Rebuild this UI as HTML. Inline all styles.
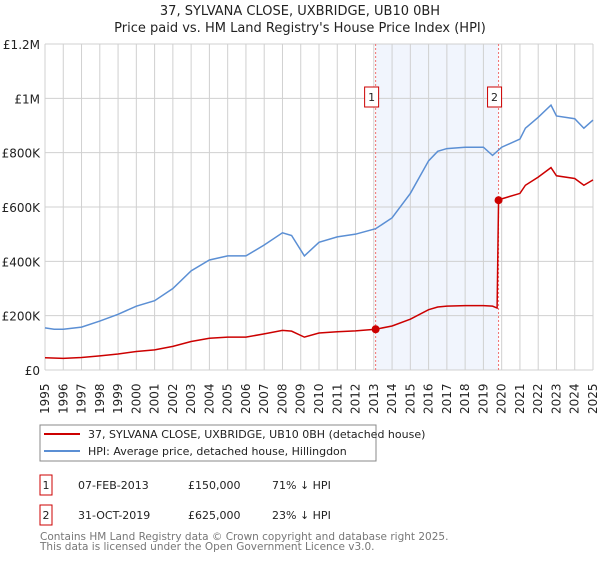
<!DOCTYPE html>
<html><head><meta charset="utf-8"><style>
body{margin:0;background:#fff;font-family:"DejaVu Sans","Liberation Sans",sans-serif;}
svg text{font-family:"DejaVu Sans","Liberation Sans",sans-serif;}
</style></head><body>
<svg id="chart" width="600" height="560" xmlns="http://www.w3.org/2000/svg">
<text x="300" y="15" text-anchor="middle" font-size="13" fill="#222">37, SYLVANA CLOSE, UXBRIDGE, UB10 0BH</text>
<text x="300" y="32" text-anchor="middle" font-size="13" fill="#222">Price paid vs. HM Land Registry's House Price Index (HPI)</text>
<g id="grid"></g><g id="series"></g><g id="axes"></g>
<g>
<rect x="40" y="425" width="336" height="36" fill="#fff" stroke="#888"/>
<line x1="44" y1="434" x2="80" y2="434" stroke="#cc0000" stroke-width="2"/>
<text x="88" y="438" font-size="11" fill="#222">37, SYLVANA CLOSE, UXBRIDGE, UB10 0BH (detached house)</text>
<line x1="44" y1="451" x2="80" y2="451" stroke="#5b8fd4" stroke-width="2"/>
<text x="88" y="455" font-size="11" fill="#222">HPI: Average price, detached house, Hillingdon</text>
</g>
<g font-size="11" fill="#222">
<rect x="40" y="475" width="12" height="20" fill="#fff" stroke="#cc0000"/>
<text x="46" y="489" text-anchor="middle">1</text>
<text x="78" y="489">07-FEB-2013</text><text x="188" y="489">£150,000</text><text x="272" y="489">71% ↓ HPI</text>
<rect x="40" y="505" width="12" height="20" fill="#fff" stroke="#cc0000"/>
<text x="46" y="519" text-anchor="middle">2</text>
<text x="78" y="519">31-OCT-2019</text><text x="188" y="519">£625,000</text><text x="272" y="519">23% ↓ HPI</text>
</g>
<text x="40" y="540" font-size="10.5" fill="#777">Contains HM Land Registry data © Crown copyright and database right 2025.</text>
<text x="40" y="550" font-size="10.5" fill="#777">This data is licensed under the Open Government Licence v3.0.</text>
</svg>
<script>
const hpiYears=[1995,1995.5,1996,1997,1998,1999,2000,2001,2002,2003,2004,2005,2006,2007,2008,2008.5,2009.2,2010,2011,2012,2013.1,2014,2015,2016,2016.5,2017,2018,2019,2019.5,2020,2021,2021.3,2022,2022.7,2023,2024,2024.5,2025];
const hpiValues=[155,150,150,158,180,205,235,255,300,365,405,420,420,460,505,495,420,470,490,500,520,560,650,770,805,815,820,820,790,820,850,890,930,975,935,925,890,920];
const propYears=[1995,1996,1997,1998,1999,2000,2001,2002,2003,2004,2005,2006,2007,2008,2008.5,2009.2,2010,2011,2012,2013.1,2014,2015,2016,2016.5,2017,2018,2019,2019.5,2019.75,2019.83,2020,2021,2021.3,2022,2022.7,2023,2024,2024.5,2025];
const propValues=[45,43,46,52,59,68,74,87,105,117,121,121,133,146,143,121,136,141,144,150,162,187,222,232,235,237,237,235,228,625,630,650,680,710,745,715,705,680,700];
const yTicks=[0,200,400,600,800,1000,1200];
const yTickLabels=["£0","£200K","£400K","£600K","£800K","£1M","£1.2M"];
const saleYears=[2013.1,2019.83];
const saleValues=[150,625];
const saleLabels=["1","2"];
const X0=45,X1=593,Y0=370,Y1=44;
const x=y=>X0+(y-1995)*(X1-X0)/30;
const yv=v=>Y0-v*(Y0-Y1)/1200;
const NS="http://www.w3.org/2000/svg";
function mk(t,a,p){const e=document.createElementNS(NS,t);for(const k in a)e.setAttribute(k,a[k]);p.appendChild(e);return e;}
const grid=document.getElementById('grid'),series=document.getElementById('series'),axes=document.getElementById('axes');
const band=mk('rect',{x:x(saleYears[0]),y:Y1,width:x(saleYears[1])-x(saleYears[0]),height:Y0-Y1,fill:'#eef3fc',opacity:0.8},grid);


for(let yr=1995;yr<=2025;yr++){const l=mk('line',{x1:x(yr),x2:x(yr),y1:Y1,y2:Y0,stroke:'#d0d0d0'},grid);


const t=mk('text',{x:0,y:0,'font-size':12,fill:'#222',transform:`translate(${x(yr)+4},${Y0+44}) rotate(-90)`},axes);t.textContent=yr;

}
yTicks.forEach((v,i)=>{const l=mk('line',{x1:X0,x2:X1,y1:yv(v),y2:yv(v),stroke:'#d0d0d0'},grid);


const t=mk('text',{x:X0-5,y:yv(v)+5,'text-anchor':'end','font-size':12,fill:'#222'},axes);t.textContent=yTickLabels[i];

});
saleYears.forEach((s,i)=>{const l=mk('line',{x1:x(s),x2:x(s),y1:Y1,y2:Y0,stroke:'#f07070','stroke-dasharray':'2,2'},grid);


const g=mk('g',{},axes);


mk('rect',{x:x(s)-11,y:87,width:14,height:20,fill:'#fff',stroke:'#cc0000'},g);
const t=mk('text',{x:x(s)-4,y:101,'text-anchor':'middle','font-size':11,fill:'#222'},g);t.textContent=saleLabels[i];});
const hp=mk('polyline',{points:hpiYears.map((yr,i)=>x(yr)+','+yv(hpiValues[i])).join(' '),fill:'none',stroke:'#5b8fd4','stroke-width':1.5},series);


const pp=mk('polyline',{points:propYears.map((yr,i)=>x(yr)+','+yv(propValues[i])).join(' '),fill:'none',stroke:'#cc0000','stroke-width':1.5},series);


saleYears.forEach((s,i)=>{const c=mk('circle',{cx:x(s),cy:yv(saleValues[i]),r:4,fill:'#cc0000'},series);

});
</script>
</body></html>
